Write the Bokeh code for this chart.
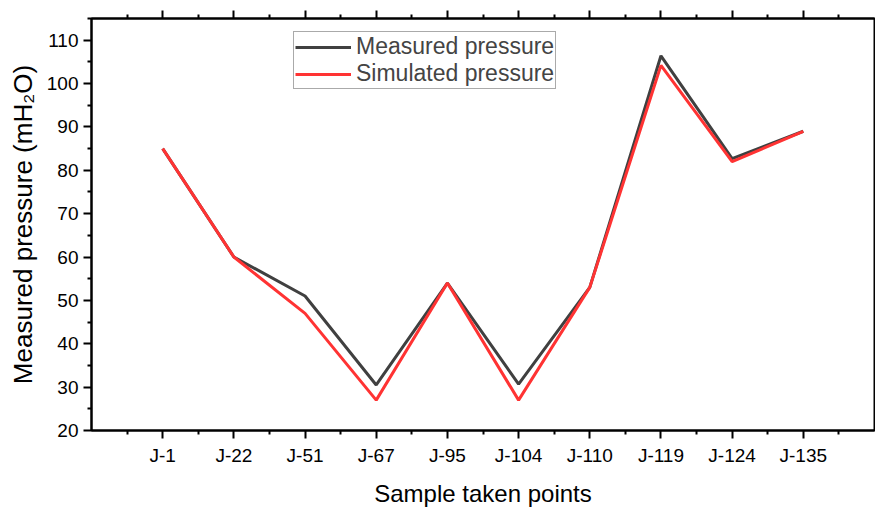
from bokeh.plotting import figure
from bokeh.models import FixedTicker, LinearAxis, Range1d, Legend, LegendItem
from bokeh.embed import file_html
from bokeh.resources import INLINE

# Sampling points along the network
points = ["J-1", "J-22", "J-51", "J-67", "J-95", "J-104", "J-110", "J-119", "J-124", "J-135"]
measured = [85, 60, 51, 30.5, 54, 30.7, 53, 106.4, 82.7, 89]
simulated = [85, 60, 47, 27, 54, 27, 53, 104.2, 82.0, 89]

xpos = list(range(1, len(points) + 1))
FONT = "Liberation Sans"

p = figure(width=875, height=511, output_backend="svg", toolbar_location=None,
           x_range=Range1d(0, len(points) + 1), y_range=Range1d(20, 115),
           min_border_left=91, min_border_right=1, min_border_top=18, min_border_bottom=81)
p.xaxis.visible = False
p.yaxis.visible = False
p.grid.visible = False
p.outline_line_color = "black"
p.outline_line_width = 2
p.background_fill_color = "white"
p.border_fill_color = "white"

minor_x = [x + 0.5 for x in range(0, len(points) + 1)]

bottom = LinearAxis(ticker=FixedTicker(ticks=xpos, minor_ticks=minor_x),
                    major_label_overrides={x: lab for x, lab in zip(xpos, points)},
                    axis_label="Sample taken points")
# mirrored ticks along the top edge, without labels
top = LinearAxis(ticker=FixedTicker(ticks=xpos, minor_ticks=minor_x),
                 major_label_overrides={x: "" for x in xpos})
left = LinearAxis(ticker=FixedTicker(ticks=list(range(20, 111, 10)),
                                     minor_ticks=list(range(25, 116, 10))),
                  axis_label="Measured pressure (mH₂O)")

for ax in (bottom, top, left):
    ax.axis_line_width = 2
    ax.major_tick_line_width = 2
    ax.minor_tick_line_width = 2
    ax.major_tick_out = 8
    ax.major_tick_in = 0
    ax.minor_tick_out = 4
    ax.minor_tick_in = 0
    ax.major_label_text_font = FONT
    ax.major_label_text_font_size = "19px"
    ax.major_label_text_color = "black"
    ax.axis_label_text_font = FONT
    ax.axis_label_text_font_style = "normal"
    ax.axis_label_text_color = "black"

top.major_label_standoff = 0
bottom.axis_label_text_font_size = "24px"
left.axis_label_text_font_size = "26px"
bottom.major_label_standoff = 6
bottom.axis_label_standoff = 11
left.major_label_standoff = 5
left.axis_label_standoff = 6

p.add_layout(bottom, "below")
p.add_layout(top, "above")
p.add_layout(left, "left")

r_meas = p.line(xpos, measured, line_color="#404040", line_width=3)
r_sim = p.line(xpos, simulated, line_color="#ff3333", line_width=3)

legend = Legend(items=[LegendItem(label="Measured pressure", renderers=[r_meas]),
                       LegendItem(label="Simulated pressure", renderers=[r_sim])],
                location=(202, 341))
legend.label_text_font = FONT
legend.label_text_font_size = "23px"
legend.label_text_line_height = 0.85
legend.label_height = 16
legend.glyph_height = 16
legend.glyph_width = 56
legend.label_standoff = 5
legend.spacing = -6
legend.padding = 1
legend.margin = 0
legend.border_line_color = "#555555"
legend.border_line_width = 1
legend.background_fill_alpha = 1
p.add_layout(legend, "center")

open("out.html", "w").write(file_html(p, INLINE))
